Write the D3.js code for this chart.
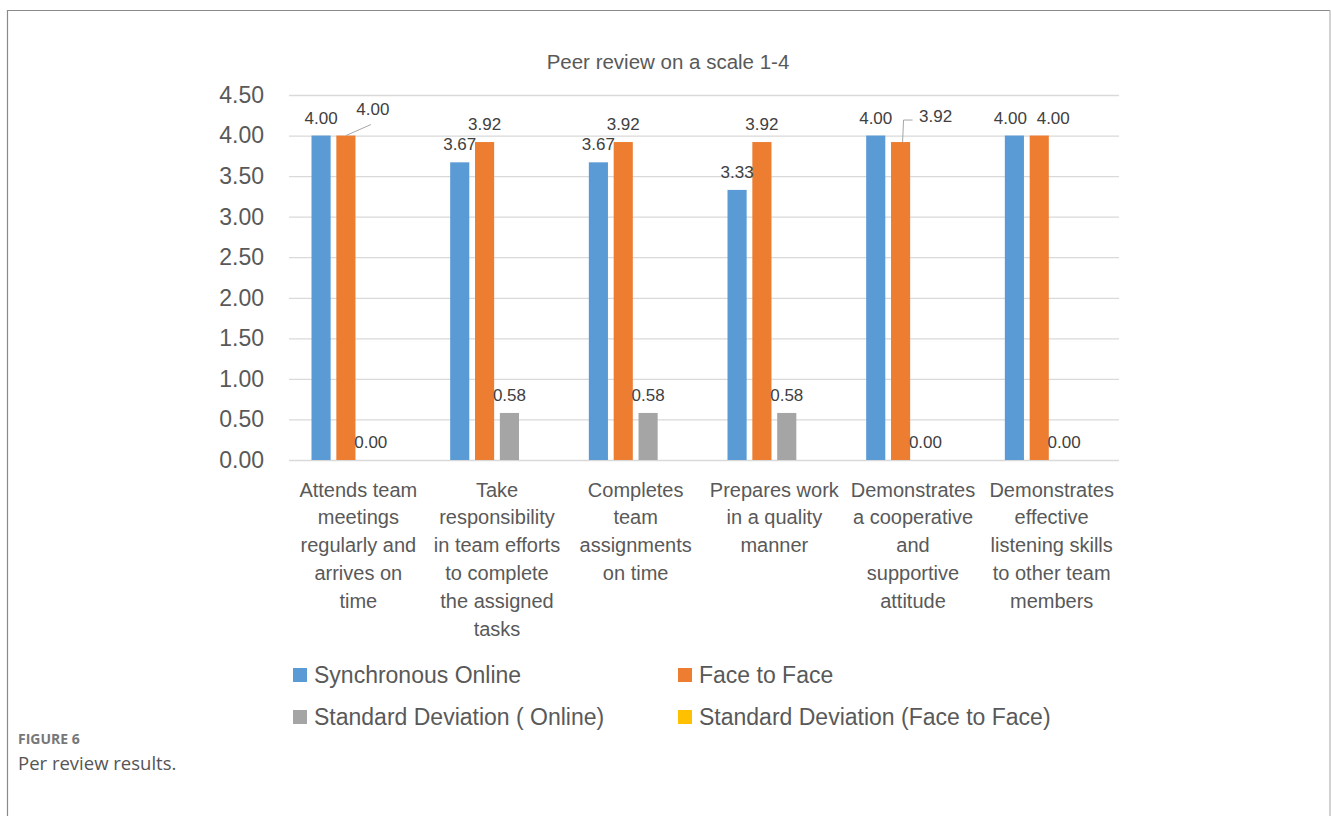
<!DOCTYPE html>
<html>
<head>
<meta charset="utf-8">
<script src="https://cdn.jsdelivr.net/npm/d3@7"></script>
<style>
  body { margin: 0; background: #fff; }
  svg { display: block; }
</style>
</head>
<body>
<svg id="chart"></svg>
<script>
// DATA
let categories = [
    "Attends team meetings regularly and arrives on time",
    "Take responsibility in team efforts to complete the assigned tasks",
    "Completes team assignments on time",
    "Prepares work in a quality manner",
    "Demonstrates a cooperative and supportive attitude",
    "Demonstrates effective listening skills to other team members"
]
let categoryLines = [
    ["Attends team", "meetings", "regularly and", "arrives on", "time"],
    ["Take", "responsibility", "in team efforts", "to complete", "the assigned", "tasks"],
    ["Completes", "team", "assignments", "on time"],
    ["Prepares work", "in a quality", "manner"],
    ["Demonstrates", "a cooperative", "and", "supportive", "attitude"],
    ["Demonstrates", "effective", "listening skills", "to other team", "members"]
]
let seriesNames = ["Synchronous Online", "Face to Face", "Standard Deviation ( Online)", "Standard Deviation (Face to Face)"]
let syncOnline = [4.00, 3.67, 3.67, 3.33, 4.00, 4.00]
let faceToFace = [4.00, 3.92, 3.92, 3.92, 3.92, 4.00]
let sdOnline = [0.00, 0.58, 0.58, 0.58, 0.00, 0.00]
let sdFaceToFace = [0.00, 0.00, 0.00, 0.00, 0.00, 0.00]
let yTicks = [0, 0.5, 1, 1.5, 2, 2.5, 3, 3.5, 4, 4.5]
let chartTitle = "Peer review on a scale 1-4"

let seriesValues = [syncOnline, faceToFace, sdOnline, sdFaceToFace]
let seriesColours = ["#5b9bd5", "#ed7d31", "#a5a5a5", "#ffc000"]

// SETUP
let width = 1331
let height = 816
let svg = d3.select('#chart').attr('width', width).attr('height', height)
let font = "'Liberation Sans', Arial, sans-serif"

// FRAME
svg.append('path')
    .attr('d', `M7.5,${height} V10.5 H1330`)
    .attr('fill', 'none')
    .attr('stroke', '#8a8a8a')
    .attr('stroke-width', 1.2)
svg.append('line')
    .attr('x1', 1330).attr('x2', 1330).attr('y1', 10.5).attr('y2', height)
    .attr('stroke', '#b4b4b4')
    .attr('stroke-width', 1.2)

// X, Y AND Xsub
let x = d3.scaleBand()
    .domain(categories)
    .range([289, 1121])
    .padding(0)
let y = d3.scaleLinear()
    .domain([0, 4.5])
    .range([460, 95])
let xsub = d3.scaleBand()
    .domain(seriesNames)
    .range([22.5, x.bandwidth() - 22.5])
    .paddingInner(0.23)
    .paddingOuter(0)

// TITLE
svg.append('text')
    .attr('x', 668)
    .attr('y', 69)
    .attr('text-anchor', 'middle')
    .attr('font-family', font)
    .attr('font-size', 20.5)
    .attr('fill', '#595959')
    .text(chartTitle)

// GRIDLINES + Y TICKS
let chart = svg.append('g')
chart.append('g')
    .attr('transform', `translate(289,0)`)
    .call(d3.axisLeft(y).tickValues(yTicks).tickSizeInner(-830).tickSizeOuter(0).tickPadding(25).tickFormat(d3.format('.2f')))
    .call(g => g.select('.domain').remove())
    .call(g => g.selectAll('.tick line').attr('stroke', '#d9d9d9').attr('stroke-width', 1.3))
    .call(g => g.selectAll('.tick text')
        .attr('fill', '#595959')
        .attr('font-family', font)
        .attr('font-size', 23))

// BARS
let rows = categories.map((c, i) => ({cat: c, idx: i, vals: seriesNames.map((s, j) => ({key: s, sIdx: j, value: seriesValues[j][i]}))}))

let groups = chart.append('g')
    .selectAll('g')
    .data(rows)
    .join('g')
    .attr('transform', d => `translate(${x(d.cat)},0)`)

groups.selectAll('rect')
    .data(d => d.vals)
    .join('rect')
    .attr('x', d => xsub(d.key))
    .attr('y', d => y(d.value))
    .attr('width', xsub.bandwidth())
    .attr('height', d => y(0) - y(d.value))
    .attr('fill', d => seriesColours[d.sIdx])

// VALUE LABELS (face to face SD labels hidden as in the original)
let labelNudge = {
    "1-0": {dx: 27, dy: -9, leader: 'line'},
    "1-4": {dx: 35, dy: -8, leader: 'elbow'},
    "0-5": {dx: -4, dy: 0},
    "1-5": {dx: 14, dy: 0}
}
let labelLayer = chart.append('g')
rows.forEach(r => {
    r.vals.forEach(v => {
        if (v.sIdx === 3) return
        let cx = x(r.cat) + xsub(v.key) + xsub.bandwidth() / 2
        let top = y(v.value)
        let nudge = labelNudge[`${v.sIdx}-${r.idx}`] || {dx: 0, dy: 0}
        let lx = cx + nudge.dx
        let ly = top - 12 + nudge.dy
        labelLayer.append('text')
            .attr('x', lx)
            .attr('y', ly)
            .attr('text-anchor', 'middle')
            .attr('font-family', font)
            .attr('font-size', 17)
            .attr('fill', '#404040')
            .text(d3.format('.2f')(v.value))
        if (nudge.leader === 'line') {
            labelLayer.append('path')
                .attr('d', `M${cx},${top} L${lx - 2},${ly + 10}`)
                .attr('stroke', '#a6a6a6').attr('fill', 'none')
        } else if (nudge.leader === 'elbow') {
            labelLayer.append('path')
                .attr('d', `M${cx + 2},${top} L${cx + 3},${ly - 2} L${lx - 23},${ly - 2}`)
                .attr('stroke', '#a6a6a6').attr('fill', 'none')
        }
    })
})

// X AXIS LABELS
let xLabels = chart.append('g')
categories.forEach((c, i) => {
    let t = xLabels.append('text')
        .attr('x', x(c) + x.bandwidth() / 2)
        .attr('y', 496.5)
        .attr('text-anchor', 'middle')
        .attr('font-family', font)
        .attr('font-size', 20)
        .attr('fill', '#595959')
    categoryLines[i].forEach((line, k) => {
        t.append('tspan')
            .attr('x', x(c) + x.bandwidth() / 2)
            .attr('y', 496.5 + k * 27.9)
            .text(line)
    })
})

// LEGEND
let legendX = [293, 678]
let legendY = [675, 717]
let legend = svg.append('g')
seriesNames.forEach((s, i) => {
    let lx = legendX[i % 2]
    let ly = legendY[Math.floor(i / 2)]
    legend.append('rect')
        .attr('x', lx).attr('y', ly - 7)
        .attr('width', 14).attr('height', 14)
        .attr('fill', seriesColours[i])
    legend.append('text')
        .attr('x', lx + 21)
        .attr('y', ly + 7.5)
        .attr('font-family', font)
        .attr('font-size', 23)
        .attr('fill', '#595959')
        .text(s)
})

// CAPTION
svg.append('text')
    .attr('x', 18)
    .attr('y', 744)
    .attr('font-family', "'Open Sans', sans-serif")
    .attr('font-size', 14)
    .attr('font-weight', 'bold')
    .attr('fill', '#777')
    .text("FIGURE 6")
svg.append('text')
    .attr('x', 18)
    .attr('y', 770)
    .attr('font-family', "'Open Sans', sans-serif")
    .attr('font-size', 18.5)
    .attr('fill', '#555')
    .text("Per review results.")
</script>
</body>
</html>
